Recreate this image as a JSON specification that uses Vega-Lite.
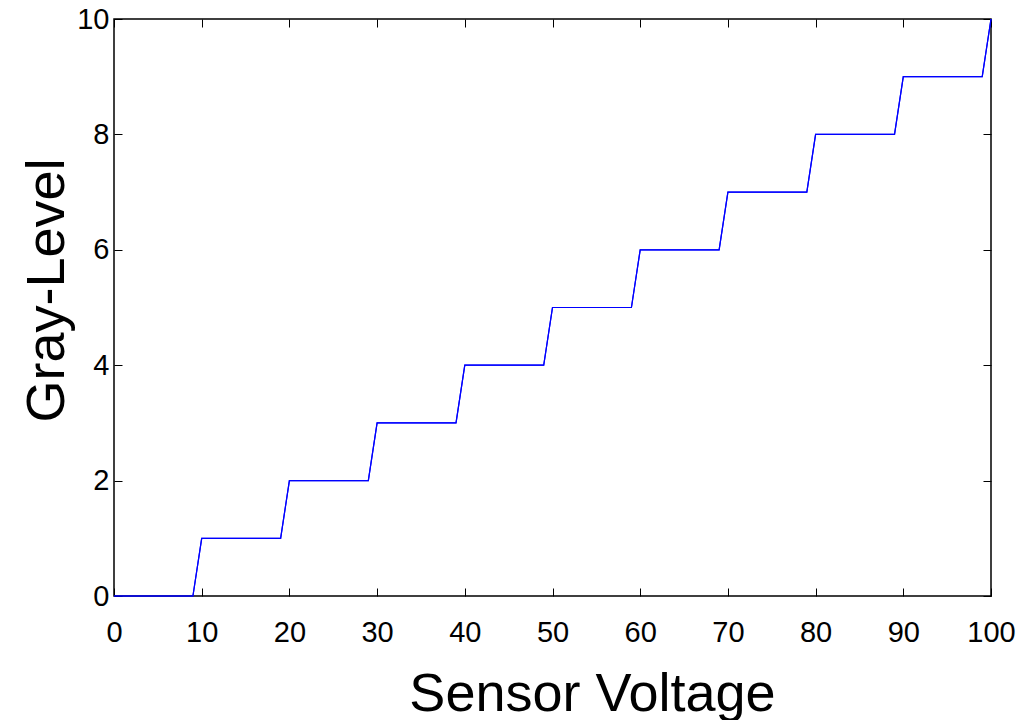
{
  "$schema": "https://vega.github.io/schema/vega-lite/v6.json",
  "autosize": "none",
  "width": 877,
  "height": 577,
  "padding": {"left": 114, "top": 19, "right": 43, "bottom": 124},
  "background": "white",
  "config": {
    "view": {"stroke": "black", "strokeWidth": 1.5},
    "axis": {
      "grid": false,
      "domain": false,
      "tickColor": "black",
      "tickWidth": 1,
      "tickSize": 8,
      "offset": -8,
      "labelFont": "Liberation Sans",
      "labelFontSize": 29,
      "labelColor": "black",
      "titleFont": "Liberation Sans",
      "titleFontSize": 54,
      "titleFontWeight": "normal",
      "titleColor": "black",
      "labelFlush": false
    }
  },
  "data": {
    "values": [
      {"voltage": 0, "gray": 0},
      {"voltage": 9, "gray": 0},
      {"voltage": 10, "gray": 1},
      {"voltage": 19, "gray": 1},
      {"voltage": 20, "gray": 2},
      {"voltage": 29, "gray": 2},
      {"voltage": 30, "gray": 3},
      {"voltage": 39, "gray": 3},
      {"voltage": 40, "gray": 4},
      {"voltage": 49, "gray": 4},
      {"voltage": 50, "gray": 5},
      {"voltage": 59, "gray": 5},
      {"voltage": 60, "gray": 6},
      {"voltage": 69, "gray": 6},
      {"voltage": 70, "gray": 7},
      {"voltage": 79, "gray": 7},
      {"voltage": 80, "gray": 8},
      {"voltage": 89, "gray": 8},
      {"voltage": 90, "gray": 9},
      {"voltage": 99, "gray": 9},
      {"voltage": 100, "gray": 10}
    ]
  },
  "layer": [
    {
      "mark": {"type": "line", "color": "#0000ff", "strokeWidth": 1.2},
      "encoding": {
        "x": {
          "field": "voltage",
          "type": "quantitative",
          "scale": {"domain": [0, 100], "nice": false},
          "axis": {
            "orient": "bottom",
            "title": "Sensor Voltage",
            "values": [0, 10, 20, 30, 40, 50, 60, 70, 80, 90, 100],
            "labelPadding": 22,
            "titlePadding": 20,
            "titleX": 478
          }
        },
        "y": {
          "field": "gray",
          "type": "quantitative",
          "scale": {"domain": [0, 10], "nice": false},
          "axis": {
            "orient": "left",
            "title": "Gray-Level",
            "values": [0, 2, 4, 6, 8, 10],
            "labelPadding": 5,
            "titlePadding": 2,
            "titleY": 271
          }
        }
      }
    },
    {
      "mark": {"type": "line", "color": "#0000ff", "strokeWidth": 1.2},
      "encoding": {
        "x": {
          "field": "voltage",
          "type": "quantitative",
          "axis": {
            "orient": "top",
            "title": null,
            "labels": false,
            "values": [0, 10, 20, 30, 40, 50, 60, 70, 80, 90, 100]
          }
        },
        "y": {
          "field": "gray",
          "type": "quantitative",
          "axis": {
            "orient": "right",
            "title": null,
            "labels": false,
            "values": [0, 2, 4, 6, 8, 10]
          }
        }
      }
    }
  ],
  "resolve": {"axis": {"x": "independent", "y": "independent"}}
}
